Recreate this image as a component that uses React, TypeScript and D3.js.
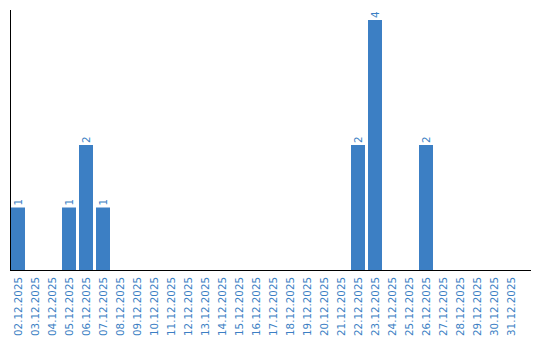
import React from "react";
import * as d3 from "d3";

const categories: string[] = [
  "02.12.2025","03.12.2025","04.12.2025","05.12.2025","06.12.2025","07.12.2025",
  "08.12.2025","09.12.2025","10.12.2025","11.12.2025","12.12.2025","13.12.2025",
  "14.12.2025","15.12.2025","16.12.2025","17.12.2025","18.12.2025","19.12.2025",
  "20.12.2025","21.12.2025","22.12.2025","23.12.2025","24.12.2025","25.12.2025",
  "26.12.2025","27.12.2025","28.12.2025","29.12.2025","30.12.2025","31.12.2025",
];
const values: number[] = [
  1,0,0,1,2,1,
  0,0,0,0,0,0,
  0,0,0,0,0,0,
  0,0,2,4,0,0,
  2,0,0,0,0,0,
];

const W = 540, H = 340;
const BLUE = "#3c7fc4";
const FONT = "'DejaVu Sans', Verdana, sans-serif";

export default function App() {
  const x = d3.scaleBand<string>().domain(categories).range([11, 521]).paddingInner(0).paddingOuter(0);
  const y = d3.scaleLinear().domain([0, 4]).range([270, 20]);
  const bw = x.bandwidth() - 3;
  return (
    <svg width={W} height={H} style={{ position: "absolute", left: 0, top: 0, background: "#fff" }}>
      {categories.map((c, i) => {
        const v = values[i];
        const x0 = x(c)!;
        const cx = x0 + bw / 2;
        return (
          <g key={c}>
            {v > 0 && (
              <rect x={x0} y={y(v)} width={bw} height={y(0) - y(v)} fill={BLUE} />
            )}
            {v > 0 && (
              <text
                transform={`translate(${cx},${y(v) - 2}) rotate(-90)`}
                dy="0.35em"
                textAnchor="start"
                style={{ fontFamily: FONT, fontSize: "10.3px" }}
                fill={BLUE}
              >
                {v}
              </text>
            )}
            <text
              transform={`translate(${cx},277) rotate(-90)`}
              dy="0.35em"
              textAnchor="end"
              style={{ fontFamily: FONT, fontSize: "10.3px" }}
              fill={BLUE}
            >
              {c}
            </text>
          </g>
        );
      })}
      <line x1={10.5} x2={10.5} y1={10} y2={270.5} stroke="#000" strokeWidth={1} />
      <line x1={10} x2={531} y1={270.5} y2={270.5} stroke="#000" strokeWidth={1} />
    </svg>
  );
}
